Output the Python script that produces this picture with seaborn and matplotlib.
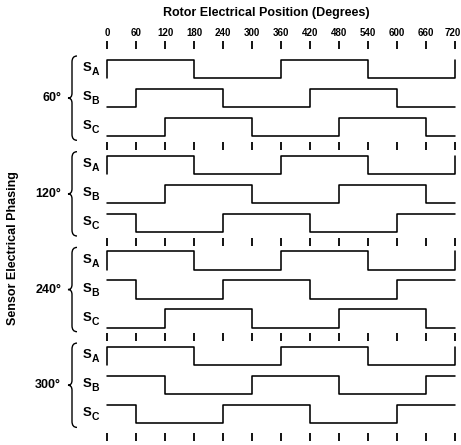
import numpy as np
import pandas as pd
import seaborn as sns
import matplotlib.pyplot as plt
from matplotlib.path import Path
from matplotlib.patches import PathPatch

# rotor electrical position (degrees) at every 60 deg step
positions = [0, 60, 120, 180, 240, 300, 360, 420, 480, 540, 600, 660, 720]
phasings = ["60°", "120°", "240°", "300°"]

# sensor outputs per 60 deg segment, 1 = high, 0 = low
sa_bits = [1, 1, 1, 0, 0, 0, 1, 1, 1, 0, 0, 0]
sb_bits = [
    [0, 1, 1, 1, 0, 0, 0, 1, 1, 1, 0, 0],   # 60
    [0, 0, 1, 1, 1, 0, 0, 0, 1, 1, 1, 0],   # 120
    [1, 0, 0, 0, 1, 1, 1, 0, 0, 0, 1, 1],   # 240
    [1, 1, 0, 0, 0, 1, 1, 1, 0, 0, 0, 1],   # 300
]
sc_bits = [
    [0, 0, 1, 1, 1, 0, 0, 0, 1, 1, 1, 0],
    [1, 0, 0, 0, 1, 1, 1, 0, 0, 0, 1, 1],
    [0, 0, 1, 1, 1, 0, 0, 0, 1, 1, 1, 0],
    [1, 0, 0, 0, 1, 1, 1, 0, 0, 0, 1, 1],
]
signal_names = ["A", "B", "C"]

sns.set_theme(style="white")
plt.rcParams["font.family"] = ["Liberation Sans", "DejaVu Sans"]
plt.rcParams["text.color"] = "black"

# layout (pixels of the 461x445 image)
X0 = 107.0            # pixel of 0 deg
PX_PER_DEG = 348.0 / 720
G0, G_STEP = 60.0, 95.7   # top of S_A in each group
HIGH = [0.0, 29.0, 58.0]  # offset of the high level for A, B, C
AMP = 18.3


def px(x):
    return (x - X0) / PX_PER_DEG


def steps(bits, lead=None, tail=None):
    xs, ys = [], []
    if lead is not None:
        xs.append(positions[0])
        ys.append(lead)
    for i, b in enumerate(bits):
        xs += [positions[i], positions[i + 1]]
        ys += [b, b]
    if tail is not None:
        xs.append(positions[-1])
        ys.append(tail)
    return xs, ys


fig = plt.figure(figsize=(4.61, 4.45), dpi=100)
ax = fig.add_axes([0, 0, 1, 1])
ax.set_xlim(px(0), px(461))
ax.set_ylim(445, 0)
ax.axis("off")

tick_rows = []
for g, label in enumerate(phasings):
    base = G0 + G_STEP * g
    traces = [steps(sa_bits, lead=0, tail=1), steps(sb_bits[g]), steps(sc_bits[g])]
    for k, (xs, ys) in enumerate(traces):
        yy = [base + HIGH[k] + AMP * (1 - v) for v in ys]
        sns.lineplot(x=xs, y=yy, sort=False, estimator=None, color="black",
                     lw=1.15, ax=ax)
        mid = base + HIGH[k] + AMP / 2
        ax.text(px(83), mid - 1, "S", fontsize=9.5, fontweight="bold",
                ha="left", va="center")
        ax.text(px(91.5), mid + 3, signal_names[k], fontsize=7.5,
                fontweight="bold", ha="left", va="center")

    # brace and phasing label
    top, bot = base - 4, base + HIGH[2] + AMP + 4
    mid = (top + bot) / 2
    verts = [(77, top), (72, top), (72, top + 6), (72, mid - 5), (72, mid),
             (68, mid), (72, mid), (72, mid + 5), (72, bot - 6), (72, bot),
             (77, bot)]
    codes = [Path.MOVETO, Path.CURVE3, Path.CURVE3, Path.LINETO, Path.CURVE3,
             Path.CURVE3, Path.CURVE3, Path.CURVE3, Path.LINETO, Path.CURVE3,
             Path.CURVE3]
    verts = [(px(x), y) for x, y in verts]
    ax.add_patch(PathPatch(Path(verts, codes), fill=False, lw=1.0, color="black"))
    ax.text(px(61), mid, label, fontsize=9, fontweight="bold", ha="right", va="center")

    if g == 0:
        tick_rows.append(base - 15)
    else:
        prev_low = G0 + G_STEP * (g - 1) + HIGH[2] + AMP
        tick_rows.append((prev_low + base) / 2)
tick_rows.append(G0 + G_STEP * 3 + HIGH[2] + AMP + 14)

for r in tick_rows:
    ax.vlines(positions, r - 4, r + 4, color="black", lw=1.3)

for p in positions:
    if p == positions[-1]:
        # last label sits at the right edge; keep it inside the image
        ax.text(px(460.5), 33, str(p), fontsize=7, fontweight="bold",
                ha="right", va="center")
    else:
        ax.text(p, 33, str(p), fontsize=7, fontweight="bold", ha="center", va="center")

ax.text(px(266), 13, "Rotor Electrical Position (Degrees)", fontsize=9,
        fontweight="bold", ha="center", va="center")
ax.text(px(13), 248, "Sensor Electrical Phasing", fontsize=9, fontweight="bold",
        rotation=90, ha="center", va="center")

fig.savefig("out.png", dpi=100)
